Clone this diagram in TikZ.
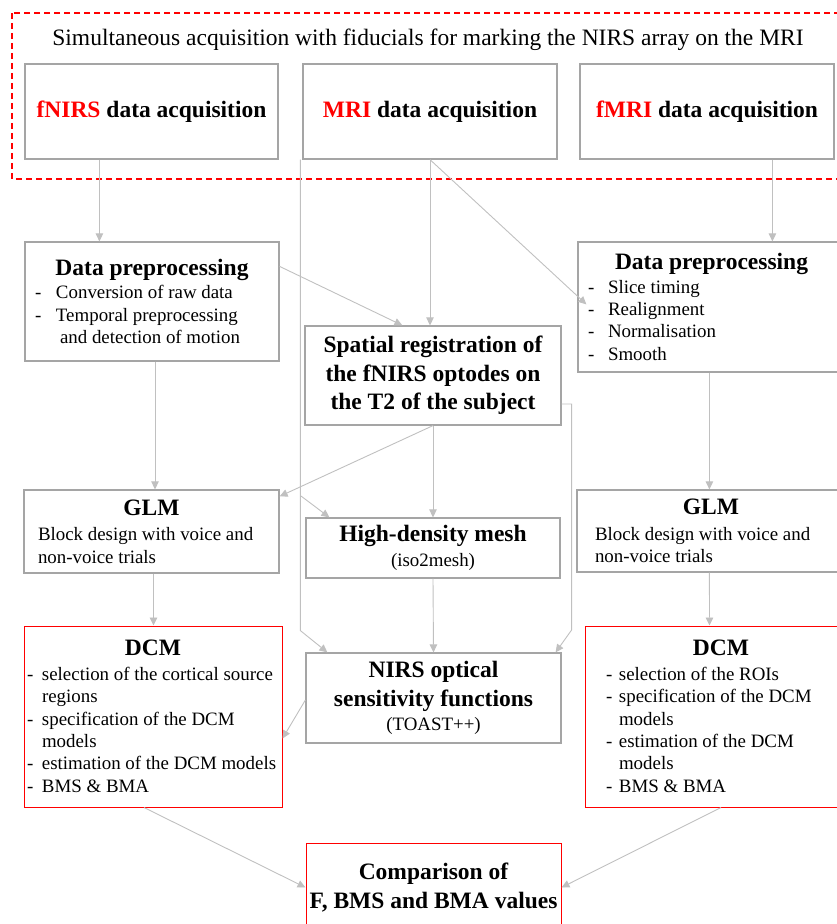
\documentclass[tikz,border=0pt]{standalone}
\usepackage{fontspec}
\setmainfont{Liberation Serif}
\usetikzlibrary{arrows.meta}
\definecolor{grisboite}{RGB}{165,165,165}
\definecolor{grisfleche}{RGB}{192,192,192}
\definecolor{rougevif}{RGB}{255,0,0}
\newcommand{\titrebox}[1]{{\fontsize{23.5}{28.5}\selectfont\bfseries #1}}
\newcommand{\enrouge}[1]{\textcolor{rougevif}{#1}}
\newcommand{\centre}[1]{\hspace*{\fill}#1\hspace*{\fill}\mbox{}}
\newcommand{\ligne}[2]{\hspace*{#1}\mbox{#2}}
\newcommand{\puce}[3]{\hspace*{#1}\makebox[#2][l]{-}\mbox{#3}}
\begin{document}
\begin{tikzpicture}[x=1pt, y=-1pt,
    boite/.style={draw=grisboite, line width=1.2pt, inner sep=0pt, font=\fontsize{18.9}{22.4}\selectfont},
    boiterouge/.style={boite, draw=rougevif, line width=1pt},
    gras/.style={font=\fontsize{23.5}{28.5}\selectfont\bfseries},
    liste/.style={align=flush left},
    fleche/.style={draw=grisfleche, line width=0.9pt, -{Triangle[length=8pt,width=7.5pt]}},
    cadre/.style={draw=rougevif, line width=1.3pt, dash pattern=on 6pt off 4pt}]
    \useasboundingbox (0,0) rectangle (837,924);
    % Cadre en pointillés (acquisition simultanée)
    \draw[cadre] (12,13) rectangle (850,179);
    \node[font=\fontsize{23.5}{28}\selectfont] (titre) at (428,40) {Simultaneous acquisition with fiducials for marking the NIRS array on the MRI};
    % Acquisitions
    \node[boite, minimum width=253, minimum height=95] (acqN) at (151.5,111.5) {\titrebox{\enrouge{fNIRS} data acquisition}};
    \node[boite, minimum width=254, minimum height=95] (acqM) at (430,111.5) {\titrebox{\enrouge{MRI} data acquisition}};
    \node[boite, minimum width=254, minimum height=95] (acqF) at (707,111.5) {\titrebox{\enrouge{fMRI} data acquisition}};
    % Prétraitements
    \node[boite, liste, text width=254pt, minimum width=254, minimum height=119] (prepN) at (152,301.5) {%
        \centre{\titrebox{Data preprocessing}}\\[1pt]
        \puce{10pt}{21pt}{Conversion of raw data}\\
        \puce{10pt}{21pt}{Temporal preprocessing}\\
        \ligne{35pt}{and detection of motion}};
    \node[boite, liste, text width=267pt, minimum width=267, minimum height=130] (prepF) at (711.5,307) {%
        \centre{\titrebox{Data preprocessing}}\\[1pt]
        \puce{10pt}{20pt}{Slice timing}\\
        \puce{10pt}{20pt}{Realignment}\\
        \puce{10pt}{20pt}{Normalisation}\\
        \puce{10pt}{20pt}{Smooth}};
    % Recalage spatial
    \node[boite, gras, align=center, minimum width=256, minimum height=99] (spat) at (433,375.5) {Spatial registration of\\the fNIRS optodes on\\the T2 of the subject};
    % GLM et maillage
    \node[boite, liste, text width=255pt, minimum width=255, minimum height=83] (glmN) at (151.5,531.5) {%
        \centre{\titrebox{GLM}}\\[3pt]
        \ligne{14pt}{Block design with voice and}\\
        \ligne{14pt}{non-voice trials}};
    \node[boite, align=center, minimum width=254, minimum height=60] (mesh) at (433,548) {\titrebox{High-density mesh}\\[2pt](iso2mesh)};
    \node[boite, liste, text width=268pt, minimum width=268, minimum height=82] (glmF) at (711,531) {%
        \centre{\titrebox{GLM}}\\[3pt]
        \ligne{18pt}{Block design with voice and}\\
        \ligne{18pt}{non-voice trials}};
    % DCM et fonctions de sensibilité
    \node[boiterouge, liste, text width=258pt, minimum width=258, minimum height=181] (dcmN) at (153,716.5) {%
        \centre{\titrebox{DCM}}\\[2pt]
        \puce{3pt}{15pt}{selection of the cortical source}\\
        \ligne{18pt}{regions}\\
        \puce{3pt}{15pt}{specification of the DCM}\\
        \ligne{18pt}{models}\\
        \puce{3pt}{15pt}{estimation of the DCM models}\\
        \puce{3pt}{15pt}{BMS \& BMA}};
    \node[boite, align=center, minimum width=255, minimum height=90] (nirs) at (433.5,698) {\titrebox{NIRS optical}\\[6pt]\titrebox{sensitivity functions}\\[2pt](TOAST++)};
    \node[boiterouge, liste, text width=265pt, minimum width=265, minimum height=181] (dcmF) at (717.5,716.5) {%
        \hspace*{7pt}\centre{\titrebox{DCM}}\\[2pt]
        \puce{21pt}{13pt}{selection of the ROIs}\\
        \puce{21pt}{13pt}{specification of the DCM}\\
        \ligne{34pt}{models}\\
        \puce{21pt}{13pt}{estimation of the DCM}\\
        \ligne{34pt}{models}\\
        \puce{21pt}{13pt}{BMS \& BMA}};
    % Comparaison finale
    \node[boiterouge, gras, align=center, minimum width=255, minimum height=89] (comp) at (433.5,887.5) {Comparison of\\F, BMS and BMA values};
    % Flèches
    \draw[fleche] ([xshift=75pt]acqN.south west) -- ([xshift=75pt]prepN.north west);
    \draw[fleche] ([xshift=193pt]acqF.south west) -- ([xshift=195pt]prepF.north west);
    \draw[fleche] (acqM.south) -- (acqM.south |- spat.north);
    \draw[fleche] (acqM.south) -- ([xshift=9pt,yshift=-63pt]prepF.north west);
    \draw[fleche] ([yshift=-25pt]prepN.north east) -- ([xshift=98pt]spat.north west);
    \draw[fleche] ([xshift=-2pt]acqM.south west) -- ++(0,471) -- ([xshift=22pt]nirs.north west);
    \coordinate (branche) at (301,496);
    \draw[fleche] (branche) -- ([xshift=24pt]mesh.north west);
    \draw[fleche] ([xshift=3pt]prepN.south) -- ([xshift=3.5pt]glmN.north);
    \draw[fleche] ([xshift=132pt]prepF.south west) -- ([xshift=133pt]glmF.north west);
    \draw[fleche] (spat.south) -- (mesh.north);
    \draw[fleche] (spat.south) -- ([yshift=-7pt]glmN.north east);
    \draw[fleche] (mesh.south) -- (nirs.north);
    \draw[fleche] ([yshift=-28.5pt]spat.east) -- ++(10,0) -- ++(0,226) -- ([xshift=-6pt]nirs.north east);
    \draw[fleche] ([yshift=-2pt]nirs.west) -- ([yshift=-22pt]dcmN.east);
    \draw[fleche] ([xshift=2pt]glmN.south) -- ([xshift=0.5pt]dcmN.north);
    \draw[fleche] ([xshift=133pt]glmF.south west) -- ([xshift=125pt]dcmF.north west);
    \draw[fleche] ([xshift=-9pt]dcmN.south) -- (comp.west);
    \draw[fleche] ([xshift=3.5pt]dcmF.south) -- (comp.east);
\end{tikzpicture}
\end{document}
